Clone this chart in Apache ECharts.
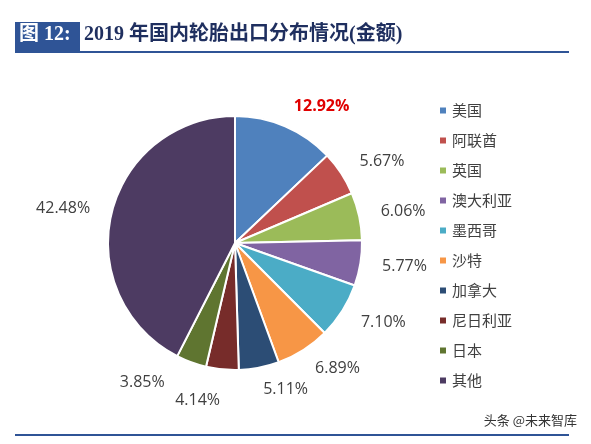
<!DOCTYPE html>
<html><head><meta charset="utf-8">
<script src="https://cdn.jsdelivr.net/npm/echarts@6/dist/echarts.min.js"></script>
<style>html,body{margin:0;padding:0;background:#fff}#c{width:591px;height:444px}</style>
</head><body><div id="c"></div>
<script>
const countries = ['美国', '阿联酋', '英国', '澳大利亚', '墨西哥', '沙特', '加拿大', '尼日利亚', '日本', '其他'];
const shares = [12.92, 5.67, 6.06, 5.77, 7.10, 6.89, 5.11, 4.14, 3.85, 42.48];
const colors = ['#4F81BD', '#C0504D', '#9BBB59', '#8064A2', '#4BACC6', '#F79646', '#2C4D75', '#772C2A', '#5F7530', '#4D3B62'];

const chart = echarts.init(document.getElementById('c'));
chart.setOption({
  animation: false,
  color: colors,
  graphic: [
    { type: 'rect', shape: { x: 15, y: 22, width: 65, height: 29 }, style: { fill: '#2F5496' } },
    { type: 'text', left: 19, top: 25, style: { text: '图 12:', fill: '#fff', font: 'bold 20px "Liberation Serif", "Noto Sans CJK SC", serif' } },
    { type: 'text', left: 84, top: 25, style: { text: '2019 年国内轮胎出口分布情况(金额)', fill: '#1F2F5F', font: 'bold 20px "Liberation Serif", "Noto Sans CJK SC", serif' } },
    { type: 'rect', shape: { x: 15, y: 51, width: 554, height: 2 }, style: { fill: '#2F5496' } },
    { type: 'rect', shape: { x: 15, y: 434, width: 554, height: 2 }, style: { fill: '#2F5496' } },
    { type: 'text', right: 14, top: 414, style: { text: '头条 @未来智库', fill: '#333', font: '13px "Noto Sans CJK SC", sans-serif' } }
  ],
  legend: {
    orient: 'vertical', left: 433, top: 98, itemWidth: 8, itemHeight: 8, itemGap: 15,
    icon: 'rect',
    textStyle: { fontSize: 15, color: '#404040', fontFamily: '"Noto Sans CJK SC", sans-serif' },
    data: countries
  },
  series: [{
    type: 'pie', center: [235, 243], radius: 127, startAngle: 90, clockwise: true,
    itemStyle: { borderColor: '#fff', borderWidth: 2 },
    label: {
      position: 'outside', formatter: p => p.value.toFixed(2) + '%',
      fontSize: 16, color: '#404040', fontFamily: '"Open Sans", sans-serif', distanceToLabelLine: 0
    },
    labelLine: { show: false, length: 22, length2: 0 },
    data: countries.map((n, i) => ({
      name: n, value: shares[i],
      label: i === 0 ? { color: '#E00000', fontWeight: 'bold' } : undefined
    }))
  }]
});
</script></body></html>
